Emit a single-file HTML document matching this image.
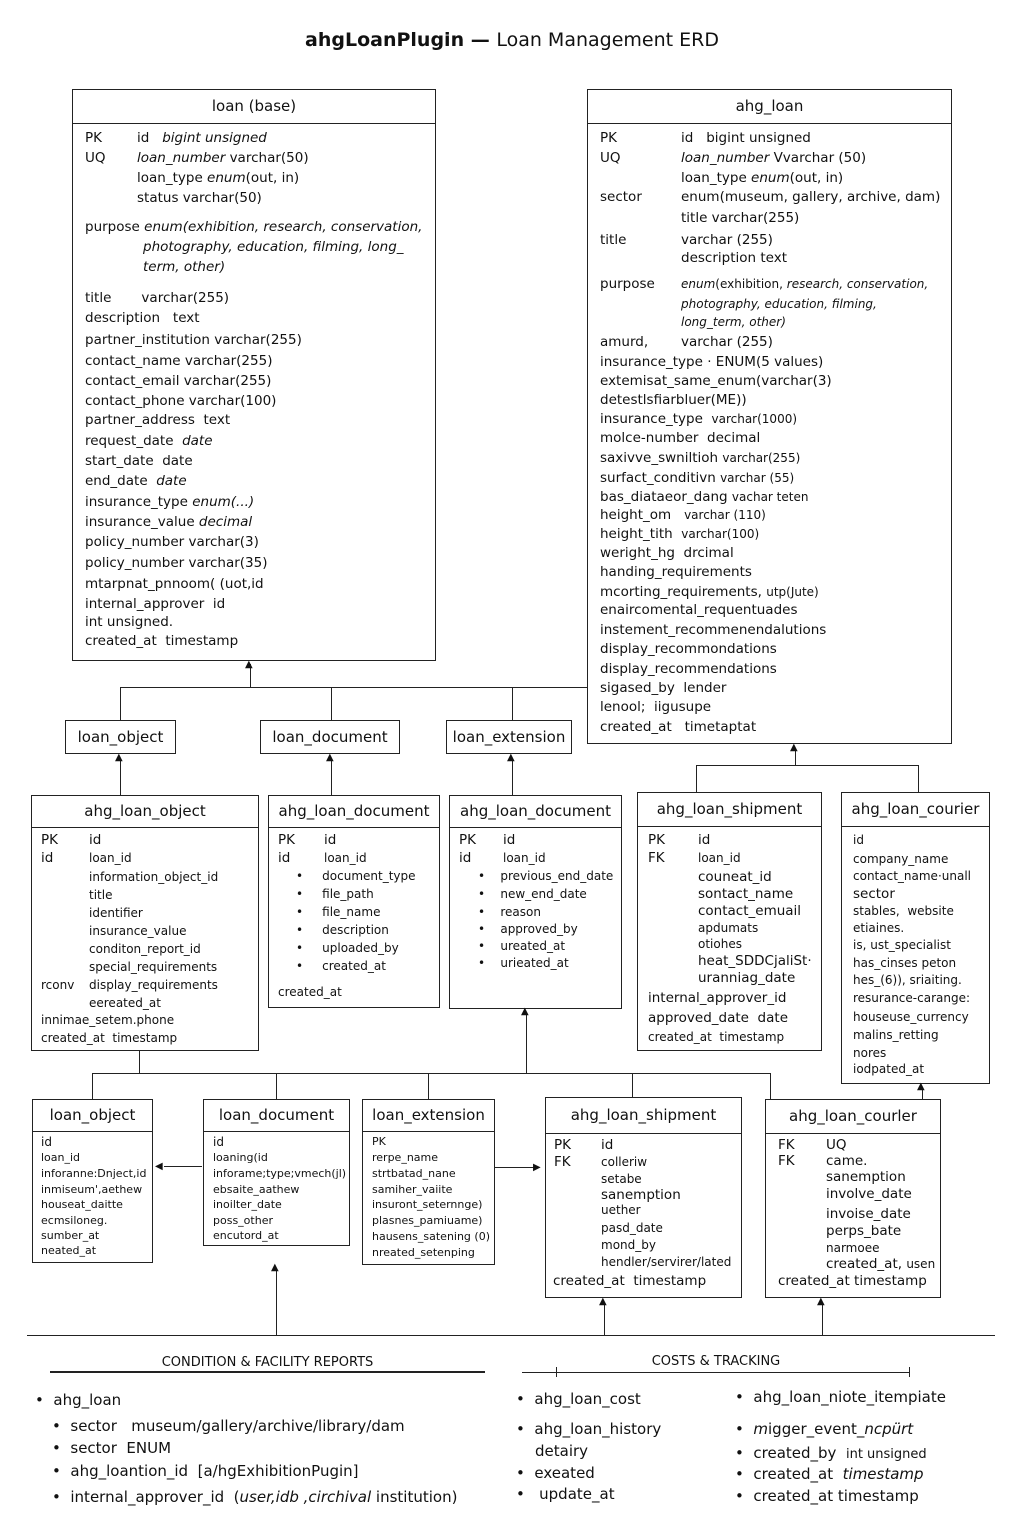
<!DOCTYPE html>
<html><head><meta charset="utf-8"><style>
body{margin:0;background:#fff}
#p{position:relative;width:1024px;height:1536px;overflow:hidden;font-family:"DejaVu Sans","Liberation Sans",sans-serif;color:#111}
.b{position:absolute;border:1.3px solid #222;box-sizing:border-box}
.h{position:absolute;left:0;right:0;top:0;border-bottom:1.3px solid #222;text-align:center;font-size:15px}
.t{position:absolute;white-space:nowrap;font-size:13.5px;line-height:16px}
.s{font-size:12px}
.l{position:absolute;background:#222}
i{font-style:italic}
</style></head><body><div id="p">
<div class="t" style="left:0;width:1024px;text-align:center;top:29px;font-size:19px;line-height:22px;font-weight:bold">ahgLoanPlugin — <span style="font-weight:normal">Loan Management ERD</span></div>

<!-- loan base -->
<div class="b" style="left:72px;top:89px;width:364px;height:572px"><div class="h" style="height:33px;line-height:33px">loan (base)</div></div>
<div class="t" style="left:85px;top:130px">PK</div><div class="t" style="left:137px;top:130px">id &nbsp;&nbsp;<i>bigint unsigned</i></div>
<div class="t" style="left:85px;top:150px">UQ</div><div class="t" style="left:137px;top:150px"><i>loan_number</i> varchar(50)</div>
<div class="t" style="left:137px;top:170px">loan_type <i>enum</i>(out, in)</div>
<div class="t" style="left:137px;top:190px">status varchar(50)</div>
<div class="t" style="left:85px;top:219px">purpose <i>enum(exhibition, research, conservation,</i></div>
<div class="t" style="left:143px;top:239px"><i>photography, education, filming, long_</i></div>
<div class="t" style="left:143px;top:259px"><i>term, other)</i></div>
<div class="t" style="left:85px;top:290px">title &nbsp;&nbsp;&nbsp;&nbsp;&nbsp;&nbsp;varchar(255)</div>
<div class="t" style="left:85px;top:310px">description &nbsp;&nbsp;text</div>
<div class="t" style="left:85px;top:332px">partner_institution varchar(255)</div>
<div class="t" style="left:85px;top:353px">contact_name varchar(255)</div>
<div class="t" style="left:85px;top:373px">contact_email varchar(255)</div>
<div class="t" style="left:85px;top:393px">contact_phone varchar(100)</div>
<div class="t" style="left:85px;top:412px">partner_address &nbsp;text</div>
<div class="t" style="left:85px;top:433px">request_date &nbsp;<i>date</i></div>
<div class="t" style="left:85px;top:453px">start_date &nbsp;date</div>
<div class="t" style="left:85px;top:473px">end_date &nbsp;<i>date</i></div>
<div class="t" style="left:85px;top:494px">insurance_type <i>enum(...)</i></div>
<div class="t" style="left:85px;top:514px">insurance_value <i>decimal</i></div>
<div class="t" style="left:85px;top:534px">policy_number varchar(3)</div>
<div class="t" style="left:85px;top:555px">policy_number varchar(35)</div>
<div class="t" style="left:85px;top:576px">mtarpnat_pnnoom( (uot,id</div>
<div class="t" style="left:85px;top:596px">internal_approver &nbsp;id</div>
<div class="t" style="left:85px;top:614px">int unsigned.</div>
<div class="t" style="left:85px;top:633px">created_at &nbsp;timestamp</div>

<!-- ahg_loan -->
<div class="b" style="left:587px;top:89px;width:365px;height:655px"><div class="h" style="height:33px;line-height:33px">ahg_loan</div></div>
<div class="t" style="left:600px;top:130px">PK</div><div class="t" style="left:681px;top:130px">id &nbsp;&nbsp;bigint unsigned</div>
<div class="t" style="left:600px;top:150px">UQ</div><div class="t" style="left:681px;top:150px"><i>loan_number</i> Vvarchar (50)</div>
<div class="t" style="left:681px;top:170px">loan_type <i>enum</i>(out, in)</div>
<div class="t" style="left:600px;top:189px">sector</div><div class="t" style="left:681px;top:189px">enum(museum, gallery, archive, dam)</div>
<div class="t" style="left:681px;top:210px">title varchar(255)</div>
<div class="t" style="left:600px;top:232px">title</div><div class="t" style="left:681px;top:232px">varchar (255)</div>
<div class="t" style="left:681px;top:250px">description text</div>
<div class="t" style="left:600px;top:276px">purpose</div><div class="t s" style="left:681px;top:276px"><i>enum</i>(exhibition, <i>research, conservation,</i></div>
<div class="t s" style="left:681px;top:296px"><i>photography, education, filming,</i></div>
<div class="t s" style="left:681px;top:314px"><i>long_term, other)</i></div>
<div class="t" style="left:600px;top:334px">amurd,</div><div class="t" style="left:681px;top:334px">varchar (255)</div>
<div class="t" style="left:600px;top:354px">insurance_type · ENUM(5 values)</div>
<div class="t" style="left:600px;top:373px">extemisat_same_enum(varchar(3)</div>
<div class="t" style="left:600px;top:392px">detestlsfiarbluer(ME))</div>
<div class="t" style="left:600px;top:411px">insurance_type &nbsp;<span class="s">varchar(1000)</span></div>
<div class="t" style="left:600px;top:430px">molce-number &nbsp;decimal</div>
<div class="t" style="left:600px;top:450px">saxivve_swniltioh <span class="s">varchar(255)</span></div>
<div class="t" style="left:600px;top:470px">surfact_conditivn <span class="s">varchar (55)</span></div>
<div class="t" style="left:600px;top:489px">bas_diataeor_dang <span class="s">vachar teten</span></div>
<div class="t" style="left:600px;top:507px">height_om &nbsp;&nbsp;<span class="s">varchar (110)</span></div>
<div class="t" style="left:600px;top:526px">height_tith &nbsp;<span class="s">varchar(100)</span></div>
<div class="t" style="left:600px;top:545px">weright_hg &nbsp;drcimal</div>
<div class="t" style="left:600px;top:564px">handing_requirements</div>
<div class="t" style="left:600px;top:584px">mcorting_requirements, <span class="s">utp(Jute)</span></div>
<div class="t" style="left:600px;top:602px">enaircomental_requentuades</div>
<div class="t" style="left:600px;top:622px">instement_recommenendalutions</div>
<div class="t" style="left:600px;top:641px">display_recommondations</div>
<div class="t" style="left:600px;top:661px">display_recommendations</div>
<div class="t" style="left:600px;top:680px">sigased_by &nbsp;lender</div>
<div class="t" style="left:600px;top:699px">lenool; &nbsp;iigusupe</div>
<div class="t" style="left:600px;top:719px">created_at &nbsp;&nbsp;timetaptat</div>

<!-- connectors top -->
<div class="l" style="left:120px;top:687px;width:467px;height:1.3px"></div>
<div class="l" style="left:250px;top:664px;width:1.3px;height:24px"></div>
<div class="t" style="left:245px;top:657px;font-size:10px">▲</div>
<div class="l" style="left:120px;top:687px;width:1.3px;height:33px"></div>
<div class="l" style="left:331px;top:687px;width:1.3px;height:33px"></div>
<div class="l" style="left:512px;top:687px;width:1.3px;height:33px"></div>

<div class="b" style="left:65px;top:720px;width:111px;height:34px"><div class="t" style="left:0;right:0;text-align:center;top:8px;font-size:15px">loan_object</div></div>
<div class="b" style="left:260px;top:720px;width:140px;height:34px"><div class="t" style="left:0;right:0;text-align:center;top:8px;font-size:15px">loan_document</div></div>
<div class="b" style="left:446px;top:720px;width:126px;height:34px"><div class="t" style="left:0;right:0;text-align:center;top:8px;font-size:15px">loan_extension</div></div>

<div class="l" style="left:120px;top:758px;width:1.3px;height:37px"></div><div class="t" style="left:115px;top:750px;font-size:10px">▲</div>
<div class="l" style="left:331px;top:758px;width:1.3px;height:37px"></div><div class="t" style="left:326px;top:750px;font-size:10px">▲</div>
<div class="l" style="left:512px;top:758px;width:1.3px;height:37px"></div><div class="t" style="left:507px;top:750px;font-size:10px">▲</div>
<div class="l" style="left:795px;top:748px;width:1.3px;height:17px"></div><div class="t" style="left:790px;top:740px;font-size:10px">▲</div>
<div class="l" style="left:696px;top:765px;width:223px;height:1.3px"></div>
<div class="l" style="left:696px;top:765px;width:1.3px;height:28px"></div>
<div class="l" style="left:918px;top:765px;width:1.3px;height:28px"></div>

<!-- row 2 -->
<div class="b" style="left:31px;top:795px;width:228px;height:256px"><div class="h" style="height:31px;line-height:31px">ahg_loan_object</div></div>
<div class="t" style="left:41px;top:832px">PK</div><div class="t" style="left:89px;top:832px">id</div>
<div class="t" style="left:41px;top:850px">id</div><div class="t s" style="left:89px;top:850px">loan_id</div>
<div class="t s" style="left:89px;top:869px">information_object_id</div>
<div class="t s" style="left:89px;top:887px">title</div>
<div class="t s" style="left:89px;top:905px">identifier</div>
<div class="t s" style="left:89px;top:923px">insurance_value</div>
<div class="t s" style="left:89px;top:941px">conditon_report_id</div>
<div class="t s" style="left:89px;top:959px">special_requirements</div>
<div class="t s" style="left:41px;top:977px">rconv</div><div class="t s" style="left:89px;top:977px">display_requirements</div>
<div class="t s" style="left:89px;top:995px">eereated_at</div>
<div class="t s" style="left:41px;top:1012px">innimae_setem.phone</div>
<div class="t s" style="left:41px;top:1030px">created_at &nbsp;timestamp</div>

<div class="b" style="left:268px;top:795px;width:172px;height:213px"><div class="h" style="height:31px;line-height:31px">ahg_loan_document</div></div>
<div class="t" style="left:278px;top:832px">PK</div><div class="t" style="left:324px;top:832px">id</div>
<div class="t" style="left:278px;top:850px">id</div><div class="t s" style="left:324px;top:850px">loan_id</div>
<div class="t s" style="left:296px;top:868px">•&nbsp;&nbsp;&nbsp;&nbsp;&nbsp;document_type</div>
<div class="t s" style="left:296px;top:886px">•&nbsp;&nbsp;&nbsp;&nbsp;&nbsp;file_path</div>
<div class="t s" style="left:296px;top:904px">•&nbsp;&nbsp;&nbsp;&nbsp;&nbsp;file_name</div>
<div class="t s" style="left:296px;top:922px">•&nbsp;&nbsp;&nbsp;&nbsp;&nbsp;description</div>
<div class="t s" style="left:296px;top:940px">•&nbsp;&nbsp;&nbsp;&nbsp;&nbsp;uploaded_by</div>
<div class="t s" style="left:296px;top:958px">•&nbsp;&nbsp;&nbsp;&nbsp;&nbsp;created_at</div>
<div class="t s" style="left:278px;top:984px">created_at</div>

<div class="b" style="left:449px;top:795px;width:173px;height:214px"><div class="h" style="height:31px;line-height:31px">ahg_loan_document</div></div>
<div class="t" style="left:459px;top:832px">PK</div><div class="t" style="left:503px;top:832px">id</div>
<div class="t" style="left:459px;top:850px">id</div><div class="t s" style="left:503px;top:850px">loan_id</div>
<div class="t s" style="left:478px;top:868px">•&nbsp;&nbsp;&nbsp;&nbsp;previous_end_date</div>
<div class="t s" style="left:478px;top:886px">•&nbsp;&nbsp;&nbsp;&nbsp;new_end_date</div>
<div class="t s" style="left:478px;top:904px">•&nbsp;&nbsp;&nbsp;&nbsp;reason</div>
<div class="t s" style="left:478px;top:921px">•&nbsp;&nbsp;&nbsp;&nbsp;approved_by</div>
<div class="t s" style="left:478px;top:938px">•&nbsp;&nbsp;&nbsp;&nbsp;ureated_at</div>
<div class="t s" style="left:478px;top:955px">•&nbsp;&nbsp;&nbsp;&nbsp;urieated_at</div>

<div class="b" style="left:637px;top:792px;width:185px;height:259px"><div class="h" style="height:33px;line-height:33px">ahg_loan_shipment</div></div>
<div class="t" style="left:648px;top:832px">PK</div><div class="t" style="left:698px;top:832px">id</div>
<div class="t" style="left:648px;top:850px">FK</div><div class="t s" style="left:698px;top:850px">loan_id</div>
<div class="t" style="left:698px;top:869px">couneat_id</div>
<div class="t" style="left:698px;top:886px">sontact_name</div>
<div class="t" style="left:698px;top:903px">contact_emuail</div>
<div class="t s" style="left:698px;top:920px">apdumats</div>
<div class="t s" style="left:698px;top:936px">otiohes</div>
<div class="t" style="left:698px;top:953px">heat_SDDCjaliSt·</div>
<div class="t" style="left:698px;top:970px">uranniag_date</div>
<div class="t" style="left:648px;top:990px">internal_approver_id</div>
<div class="t" style="left:648px;top:1010px">approved_date &nbsp;date</div>
<div class="t s" style="left:648px;top:1029px">created_at &nbsp;timestamp</div>

<div class="b" style="left:841px;top:792px;width:149px;height:292px"><div class="h" style="height:33px;line-height:33px">ahg_loan_courier</div></div>
<div class="t s" style="left:853px;top:832px">id</div>
<div class="t s" style="left:853px;top:851px">company_name</div>
<div class="t s" style="left:853px;top:868px">contact_name·unall</div>
<div class="t" style="left:853px;top:886px">sector</div>
<div class="t s" style="left:853px;top:903px">stables, &nbsp;website</div>
<div class="t s" style="left:853px;top:920px">etiaines.</div>
<div class="t s" style="left:853px;top:937px">is, ust_specialist</div>
<div class="t s" style="left:853px;top:955px">has_cinses peton</div>
<div class="t s" style="left:853px;top:972px">hes_(6)), sriaiting.</div>
<div class="t s" style="left:853px;top:990px">resurance-carange:</div>
<div class="t s" style="left:853px;top:1009px">houseuse_currency</div>
<div class="t s" style="left:853px;top:1027px">malins_retting</div>
<div class="t s" style="left:853px;top:1045px">nores</div>
<div class="t s" style="left:853px;top:1061px">iodpated_at</div>

<!-- row connectors -->
<div class="l" style="left:92px;top:1073px;width:679px;height:1.3px"></div>
<div class="l" style="left:139px;top:1051px;width:1.3px;height:22px"></div>
<div class="l" style="left:92px;top:1073px;width:1.3px;height:26px"></div>
<div class="l" style="left:276px;top:1073px;width:1.3px;height:26px"></div>
<div class="l" style="left:428px;top:1073px;width:1.3px;height:26px"></div>
<div class="l" style="left:632px;top:1073px;width:1.3px;height:24px"></div>
<div class="l" style="left:770px;top:1073px;width:1.3px;height:26px"></div>
<div class="l" style="left:526px;top:1012px;width:1.3px;height:61px"></div><div class="t" style="left:521px;top:1004px;font-size:10px">▲</div>
<div class="l" style="left:922px;top:1087px;width:1.3px;height:12px"></div><div class="t" style="left:917px;top:1079px;font-size:10px">▲</div>

<!-- row 3 -->
<div class="b" style="left:32px;top:1099px;width:121px;height:164px"><div class="h" style="height:31px;line-height:31px">loan_object</div></div>
<div class="t s" style="left:41px;top:1134px">id</div>
<div class="t" style="left:41px;top:1150px;font-size:11px">loan_id</div>
<div class="t" style="left:41px;top:1166px;font-size:11px">inforanne:Dnject,id</div>
<div class="t" style="left:41px;top:1182px;font-size:11px">inmiseum',aethew</div>
<div class="t" style="left:41px;top:1197px;font-size:11px">houseat_daitte</div>
<div class="t" style="left:41px;top:1213px;font-size:11px">ecmsiloneg.</div>
<div class="t" style="left:41px;top:1228px;font-size:11px">sumber_at</div>
<div class="t" style="left:41px;top:1243px;font-size:11px">neated_at</div>

<div class="b" style="left:203px;top:1099px;width:147px;height:147px"><div class="h" style="height:31px;line-height:31px">loan_document</div></div>
<div class="t s" style="left:213px;top:1134px">id</div>
<div class="t" style="left:213px;top:1150px;font-size:11px">loaning(id</div>
<div class="t" style="left:213px;top:1166px;font-size:11px">inforame;type;vmech(jl)</div>
<div class="t" style="left:213px;top:1182px;font-size:11px">ebsaite_aathew</div>
<div class="t" style="left:213px;top:1197px;font-size:11px">inoilter_date</div>
<div class="t" style="left:213px;top:1213px;font-size:11px">poss_other</div>
<div class="t" style="left:213px;top:1228px;font-size:11px">encutord_at</div>

<div class="b" style="left:362px;top:1099px;width:133px;height:166px"><div class="h" style="height:31px;line-height:31px">loan_extension</div></div>
<div class="t" style="left:372px;top:1134px;font-size:11px">PK</div>
<div class="t" style="left:372px;top:1150px;font-size:11px">rerpe_name</div>
<div class="t" style="left:372px;top:1166px;font-size:11px">strtbatad_nane</div>
<div class="t" style="left:372px;top:1182px;font-size:11px">samiher_vaiite</div>
<div class="t" style="left:372px;top:1197px;font-size:11px">insuront_seternnge)</div>
<div class="t" style="left:372px;top:1213px;font-size:11px">plasnes_pamiuame)</div>
<div class="t" style="left:372px;top:1229px;font-size:11px">hausens_satening (0)</div>
<div class="t" style="left:372px;top:1245px;font-size:11px">nreated_setenping</div>

<div class="l" style="left:164px;top:1166px;width:38px;height:1.3px"></div><div class="t" style="left:155px;top:1159px;font-size:10px">◀</div>
<div class="l" style="left:495px;top:1167px;width:40px;height:1.3px"></div><div class="t" style="left:533px;top:1160px;font-size:10px">▶</div>

<div class="b" style="left:545px;top:1097px;width:197px;height:201px"><div class="h" style="height:35px;line-height:35px">ahg_loan_shipment</div></div>
<div class="t" style="left:554px;top:1137px">PK</div><div class="t" style="left:601px;top:1137px">id</div>
<div class="t" style="left:554px;top:1154px">FK</div><div class="t s" style="left:601px;top:1154px">colleriw</div>
<div class="t s" style="left:601px;top:1171px">setabe</div>
<div class="t" style="left:601px;top:1187px">sanemption</div>
<div class="t s" style="left:601px;top:1202px">uether</div>
<div class="t s" style="left:601px;top:1220px">pasd_date</div>
<div class="t s" style="left:601px;top:1237px">mond_by</div>
<div class="t s" style="left:601px;top:1254px">hendler/servirer/lated</div>
<div class="t" style="left:553px;top:1273px">created_at &nbsp;timestamp</div>

<div class="b" style="left:765px;top:1099px;width:176px;height:199px"><div class="h" style="height:33px;line-height:33px">ahg_loan_courler</div></div>
<div class="t" style="left:778px;top:1137px">FK</div><div class="t" style="left:826px;top:1137px">UQ</div>
<div class="t" style="left:778px;top:1153px">FK</div><div class="t" style="left:826px;top:1153px">came.</div>
<div class="t" style="left:826px;top:1169px">sanemption</div>
<div class="t" style="left:826px;top:1186px">involve_date</div>
<div class="t" style="left:826px;top:1206px">invoise_date</div>
<div class="t" style="left:826px;top:1223px">perps_bate</div>
<div class="t s" style="left:826px;top:1240px">narmoee</div>
<div class="t" style="left:826px;top:1256px">created_at, <span class="s">usen</span></div>
<div class="t" style="left:778px;top:1273px">created_at timestamp</div>

<div class="l" style="left:276px;top:1268px;width:1.3px;height:67px"></div><div class="t" style="left:271px;top:1260px;font-size:10px">▲</div>
<div class="l" style="left:604px;top:1302px;width:1.3px;height:33px"></div><div class="t" style="left:599px;top:1294px;font-size:10px">▲</div>
<div class="l" style="left:822px;top:1302px;width:1.3px;height:33px"></div><div class="t" style="left:817px;top:1294px;font-size:10px">▲</div>
<div class="l" style="left:27px;top:1335px;width:968px;height:1.3px"></div>

<!-- bottom -->
<div class="t" style="left:50px;width:435px;text-align:center;top:1355px;font-size:13px">CONDITION &amp; FACILITY REPORTS</div>
<div class="l" style="left:50px;top:1371px;width:435px;height:1.5px"></div>
<div class="t" style="left:522px;width:388px;text-align:center;top:1354px;font-size:13px">COSTS &amp; TRACKING</div>
<div class="l" style="left:522px;top:1372px;width:388px;height:1.3px"></div>
<div class="l" style="left:556px;top:1367px;width:1.3px;height:10px"></div>
<div class="l" style="left:909px;top:1367px;width:1.3px;height:10px"></div>

<div class="t" style="left:35px;top:1392px;font-size:15px">•&nbsp;&nbsp;ahg_loan</div>
<div class="t" style="left:52px;top:1418px;font-size:15px">•&nbsp;&nbsp;sector&nbsp;&nbsp;&nbsp;museum/gallery/archive/library/dam</div>
<div class="t" style="left:52px;top:1440px;font-size:15px">•&nbsp;&nbsp;sector&nbsp;&nbsp;ENUM</div>
<div class="t" style="left:52px;top:1463px;font-size:15px">•&nbsp;&nbsp;ahg_loantion_id&nbsp;&nbsp;[a/hgExhibitionPugin]</div>
<div class="t" style="left:52px;top:1489px;font-size:15px">•&nbsp;&nbsp;internal_approver_id&nbsp;&nbsp;(<i>user,idb ,circhival</i> institution)</div>

<div class="t" style="left:516px;top:1391px;font-size:15px">•&nbsp;&nbsp;ahg_loan_cost</div>
<div class="t" style="left:516px;top:1421px;font-size:15px">•&nbsp;&nbsp;ahg_loan_history</div>
<div class="t" style="left:535px;top:1443px;font-size:15px">detairy</div>
<div class="t" style="left:516px;top:1465px;font-size:15px">•&nbsp;&nbsp;exeated</div>
<div class="t" style="left:516px;top:1486px;font-size:15px">•&nbsp;&nbsp;&nbsp;update_at</div>

<div class="t" style="left:735px;top:1389px;font-size:15px">•&nbsp;&nbsp;ahg_loan_niote_itempiate</div>
<div class="t" style="left:735px;top:1421px;font-size:15px">•&nbsp;&nbsp;<i>m</i>igger_event_<i>ncpürt</i></div>
<div class="t" style="left:735px;top:1445px;font-size:15px">•&nbsp;&nbsp;created_by&nbsp;&nbsp;<span style="font-size:13px">int unsigned</span></div>
<div class="t" style="left:735px;top:1466px;font-size:15px">•&nbsp;&nbsp;created_at&nbsp;&nbsp;<i>timestamp</i></div>
<div class="t" style="left:735px;top:1488px;font-size:15px">•&nbsp;&nbsp;created_at timestamp</div>
</div></body></html>
